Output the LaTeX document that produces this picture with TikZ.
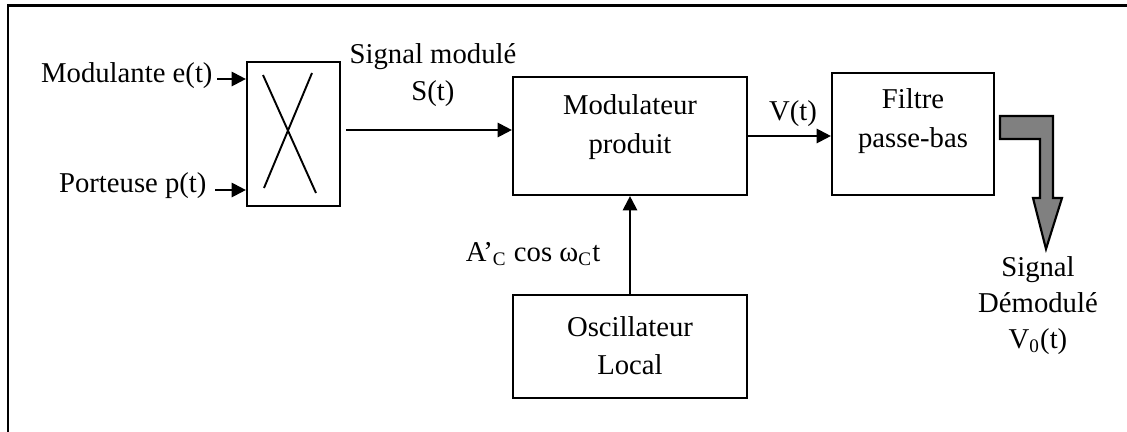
\documentclass[tikz,border=0pt]{standalone}
\usepackage{fontspec}
\setmainfont{Liberation Serif}
\usetikzlibrary{arrows.meta, positioning, fit}
\definecolor{outgray}{RGB}{128,128,128}
\tikzstyle{block} = [rectangle, draw=black, line width=0.9pt, inner sep=0pt]
\tikzstyle{txt} = [font=\fontsize{12}{16}\selectfont, align=center, inner sep=0pt]
\tikzstyle{arrow} = [-{Triangle[length=6pt, width=6pt]}, line width=0.9pt]

\begin{document}
\begin{tikzpicture}[x=0.0147cm, y=-0.0147cm]
\useasboundingbox (0,0) rectangle (1127,432);

% Frame
\draw[line width=0.9pt] (8,432) -- (8,5.5) -- (1127,5.5);

% Blocks
\node[block, fit={(247,62) (340,206)}] (mult) {};
\node[block, fit={(513,77) (747,195)}] (modprod) {};
\node[block, fit={(832,73) (994,195)}] (filtre) {};
\node[block, fit={(513,295) (747,398)}] (osc) {};

% Multiplier cross
\draw[line width=0.8pt] (263,75) -- (316,193);
\draw[line width=0.8pt] (312,73) -- (264,188);

% Block texts
\node[txt] (modtxt) at (630,127) {Modulateur\\produit};
\node[txt] (filtxt) at (913,121) {Filtre\\passe-bas};
\node[txt] (osctxt) at (630,345.5) {Oscillateur\\Local};

% Signal labels
\node[txt, anchor=base east] (modl) at (213,82) {Modulante e(t)};
\node[txt, anchor=base east] (port) at (207,192) {Porteuse p(t)};
\node[txt, font=\fontsize{12}{15.5}\selectfont] (smod) at (433,75.5) {Signal modulé\\S(t)};
\node[txt, anchor=base] (vt) at (793,120) {V(t)};
\node[txt, anchor=base] (carrier) at (533,261) {A’\textsubscript{C} cos ω\textsubscript{C}t};
\node[txt, font=\fontsize{12}{15}\selectfont] (demod) at (1038,305.5) {Signal\\Démodulé\\V\textsubscript{0}(t)};

% Arrows
\coordinate (ein) at (217,79);
\coordinate (pin) at (215,190);
\coordinate (sout) at (346,130);
\draw[arrow] (ein) -- (ein -| mult.west);
\draw[arrow] (pin) -- (pin -| mult.west);
\draw[arrow] (sout) -- (sout -| modprod.west);
\draw[arrow] (modprod.east) -- (modprod.east -| filtre.west);
\draw[arrow] (osc.north) -- (modprod.south);

% Output arrow
\draw[line width=0.9pt, fill=outgray] (1000,116) -- (1053,116) -- (1053,198) -- (1062,198)
  -- (1046,249) -- (1033,198) -- (1040,198) -- (1040,139) -- (1000,139) -- cycle;

\end{tikzpicture}
\end{document}
